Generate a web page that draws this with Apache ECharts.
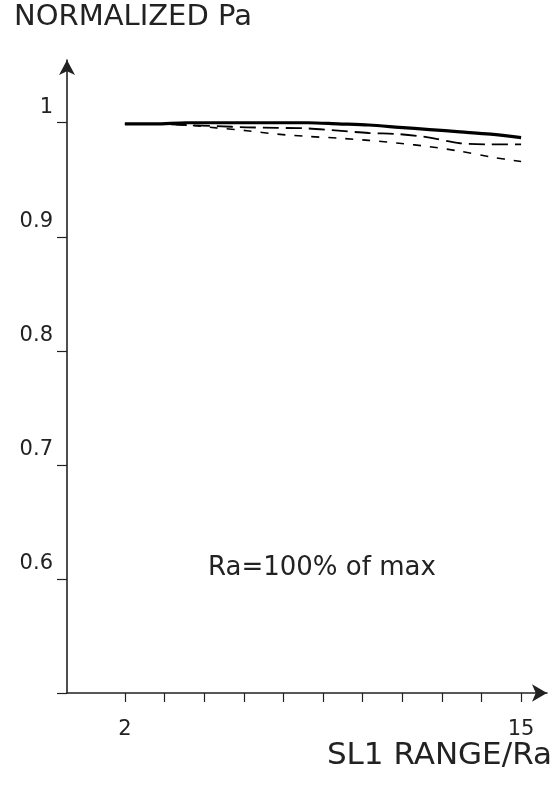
<!DOCTYPE html>
<html>
<head>
<meta charset="utf-8">
<script src="https://cdn.jsdelivr.net/npm/echarts@6/dist/echarts.min.js"></script>
<style>
  html, body { margin: 0; padding: 0; background: #fff; }
  #main { width: 559px; height: 785px; }
</style>
</head>
<body>
<div id="main"></div>
<script>
// SL1 range / Ra values along the x axis
var ranges = [2, 3, 4, 5, 6, 7, 8, 9, 10, 11, 12, 13, 14, 15];
// normalized Pa
var solidPa     = [0.999, 0.999, 1.000, 1.000, 1.000, 1.000, 1.000, 0.999, 0.998, 0.996, 0.994, 0.992, 0.990, 0.987];
var longDashPa  = [0.999, 0.999, 0.998, 0.997, 0.996, 0.9955, 0.995, 0.993, 0.991, 0.990, 0.987, 0.982, 0.981, 0.981];
var shortDashPa = [0.999, 0.999, 0.998, 0.9955, 0.993, 0.990, 0.988, 0.9865, 0.9845, 0.982, 0.979, 0.975, 0.970, 0.966];
// tick positions
var xTicks = [2, 3.3, 4.6, 5.9, 7.2, 8.5, 9.8, 11.1, 12.4, 13.7, 15];
var xLabels = [2, 15];
var yTicks = [0.5, 0.6, 0.7, 0.8, 0.9, 1];
var yLabels = [0.6, 0.7, 0.8, 0.9, 1];

var ink = '#222';
var font = 'DejaVu Sans';

function pairs(ys) {
    return ranges.map(function (x, i) { return [x, ys[i]]; });
}

var chart = echarts.init(document.getElementById('main'));

var texts = [
    {
        type: 'text', x: 14, y: 3,
        style: { text: 'NORMALIZED Pa', fill: ink, font: '29px "DejaVu Sans"' }
    },
    {
        type: 'text', x: 552, y: 756,
        style: { text: 'SL1 RANGE/Ra', fill: ink, font: '31px "DejaVu Sans"', align: 'right', verticalAlign: 'middle' }
    },
    {
        type: 'text', x: 208, y: 568,
        style: { text: 'Ra=100% of max', fill: ink, font: '26px "DejaVu Sans"', verticalAlign: 'middle' }
    }
];

var option = {
    backgroundColor: '#fff',
    animation: false,
    grid: { left: 67, right: 12, top: 60, bottom: 92 },
    xAxis: {
        type: 'value',
        min: 0.1,
        max: 15.85,
        splitLine: { show: false },
        axisLine: {
            lineStyle: { color: ink, width: 1.6 },
            symbol: ['none', 'arrow'],
            symbolSize: [13, 15]
        },
        axisTick: {
            customValues: xTicks,
            length: 9,
            lineStyle: { color: ink, width: 1.2 }
        },
        axisLabel: { show: false }
    },
    yAxis: {
        type: 'value',
        min: 0.5,
        max: 1.055,
        splitLine: { show: false },
        axisLine: {
            lineStyle: { color: ink, width: 1.6 },
            symbol: ['none', 'arrow'],
            symbolSize: [12, 15]
        },
        axisTick: {
            customValues: yTicks,
            length: 10,
            lineStyle: { color: ink, width: 1.2 }
        },
        axisLabel: {
            customValues: yLabels,
            margin: 14,
            color: ink,
            fontFamily: font,
            fontSize: 21,
            verticalAlign: 'bottom',
            padding: [0, 0, 5, 0],
            formatter: function (v) { return v === 1 ? '1' : v.toFixed(1); }
        }
    },
    graphic: texts,
    series: [
        {
            name: 'solid',
            type: 'line',
            data: pairs(solidPa),
            smooth: 0.3,
            showSymbol: false,
            lineStyle: { color: '#000', width: 3.2 }
        },
        {
            name: 'long dash',
            type: 'line',
            data: pairs(longDashPa),
            smooth: 0.3,
            showSymbol: false,
            lineStyle: { color: '#000', width: 1.8, type: [16, 7] }
        },
        {
            name: 'short dash',
            type: 'line',
            data: pairs(shortDashPa),
            smooth: 0.3,
            showSymbol: false,
            lineStyle: { color: '#000', width: 1.6, type: [8, 9] }
        }
    ]
};

chart.setOption(option);

// x tick labels "2" and "15", placed through the x axis scale
xLabels.forEach(function (v) {
    texts.push({
        type: 'text',
        x: chart.convertToPixel({ xAxisIndex: 0 }, v),
        y: 730,
        style: {
            text: String(v), fill: ink, font: '21px "DejaVu Sans"',
            align: 'center', verticalAlign: 'middle'
        }
    });
});
chart.setOption({ graphic: texts });
</script>
</body>
</html>
